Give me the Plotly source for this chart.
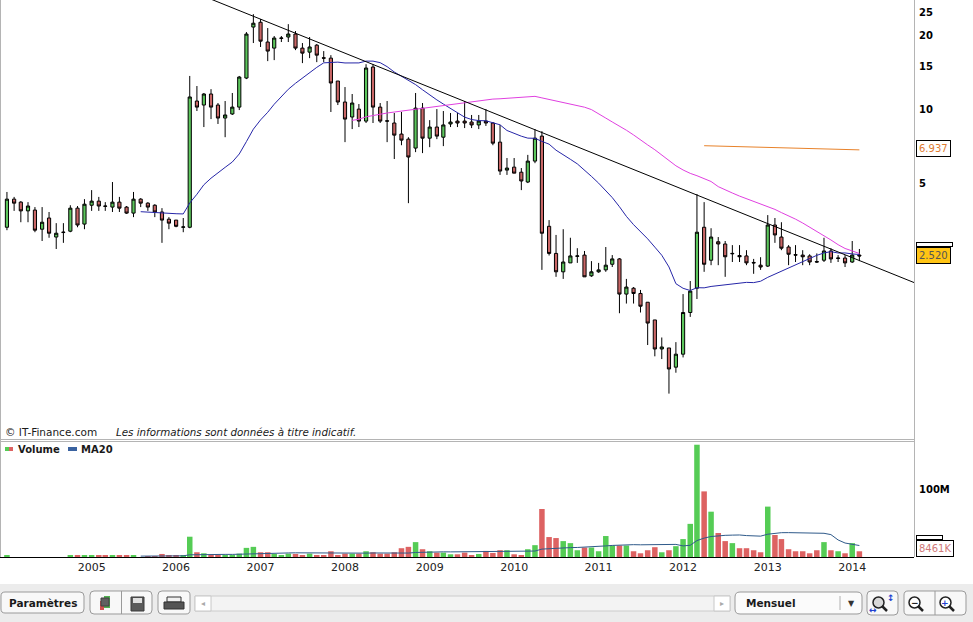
import math
import pandas as pd
import plotly.graph_objects as go

# ---------------- data (monthly, Jan 2004 .. Feb 2014) ----------------
months = pd.date_range("2004-01-01", periods=122, freq="MS")

opens = [3.30, 4.30, 4.18, 3.85, 3.88, 3.24, 3.60, 3.01, 3.14, 3.18,
         3.95, 3.40, 4.06, 4.22, 4.03, 3.99, 4.18, 3.99, 3.77, 4.30,
         4.14, 4.06, 3.81, 3.56, 3.53, 3.30, 3.30, 10.82, 10.42, 11.56,
         10.42, 9.22, 9.58, 10.22, 13.43, 21.70, 22.70, 18.85, 17.80, 19.50,
         19.76, 20.32, 17.80, 17.14, 18.30, 16.25, 16.20, 13.06, 10.72, 9.31,
         10.03, 8.96, 14.90, 10.22, 8.98, 8.80, 7.93, 7.56, 6.95, 10.12,
         7.63, 8.47, 7.70, 8.72, 8.96, 8.96, 8.88, 8.64, 8.96, 8.80,
         7.35, 5.65, 5.81, 5.54, 5.05, 6.15, 7.78, 3.33, 2.58, 2.17,
         2.36, 2.51, 2.54, 2.09, 2.17, 2.21, 2.33, 2.45, 1.76, 1.86,
         1.77, 1.63, 1.38, 1.05, 1.06, 0.885, 1.00, 1.48, 1.86, 3.30,
         2.42, 2.88, 2.82, 2.57, 2.53, 2.52, 2.37, 2.31, 2.29, 3.37,
         3.01, 2.74, 2.55, 2.54, 2.52, 2.39, 2.42, 2.64, 2.46, 2.47,
         2.38, 2.54]
highs = [4.60, 4.39, 4.22, 4.18, 3.99, 3.99, 3.81, 3.43, 3.43, 4.06,
         4.03, 4.30, 4.68, 4.39, 4.18, 5.05, 4.39, 4.03, 4.60, 4.34,
         4.18, 4.10, 3.95, 3.63, 3.53, 3.60, 13.70, 12.46, 11.67, 12.10,
         10.62, 10.82, 11.67, 13.70, 20.70, 24.50, 23.40, 21.50, 19.95, 19.95,
         22.30, 20.90, 18.67, 19.76, 18.50, 17.31, 16.66, 13.06, 12.34, 11.56,
         10.52, 15.30, 15.30, 10.62, 10.82, 9.67, 9.76, 7.70, 11.67, 10.62,
         9.04, 10.03, 9.85, 9.67, 9.67, 10.82, 9.49, 9.49, 10.03, 8.88,
         8.64, 6.33, 6.33, 5.76, 6.52, 8.31, 8.15, 3.53, 3.07, 3.24,
         2.99, 2.71, 2.64, 2.40, 2.36, 2.74, 2.54, 2.47, 2.03, 1.88,
         1.83, 1.63, 1.38, 1.17, 1.06, 1.12, 1.76, 1.99, 4.51, 4.18,
         3.27, 3.01, 2.90, 2.79, 2.79, 2.66, 2.45, 2.49, 3.70, 3.60,
         3.46, 2.79, 2.79, 2.66, 2.56, 2.58, 2.99, 2.71, 2.54, 2.54,
         2.90, 2.69]
lows = [3.21, 3.85, 3.46, 3.46, 3.15, 2.90, 2.99, 2.69, 2.85, 3.15,
        3.30, 3.24, 3.85, 3.85, 3.85, 3.81, 3.81, 3.74, 3.63, 3.99,
        3.85, 3.63, 2.85, 3.24, 3.30, 3.15, 3.27, 9.85, 8.47, 9.13,
        8.72, 7.70, 9.49, 9.94, 13.30, 18.67, 17.99, 15.75, 15.90, 18.85,
        18.85, 17.47, 15.46, 16.20, 15.60, 15.60, 9.76, 10.42, 7.35, 8.31,
        8.47, 8.80, 8.80, 8.80, 7.35, 6.27, 7.14, 4.14, 6.69, 6.63,
        7.01, 7.56, 7.08, 8.47, 8.47, 8.39, 8.39, 8.31, 8.56, 7.14,
        5.40, 5.40, 5.49, 4.68, 5.00, 6.03, 2.21, 2.53, 2.07, 2.03,
        2.36, 2.36, 2.07, 2.07, 2.15, 2.17, 2.27, 1.47, 1.61, 1.61,
        1.48, 1.09, 0.98, 0.955, 0.69, 0.84, 0.97, 1.42, 1.68, 2.17,
        2.31, 2.31, 2.07, 2.38, 2.38, 2.31, 2.13, 2.21, 2.27, 2.85,
        2.66, 2.31, 2.38, 2.31, 2.31, 2.36, 2.38, 2.36, 2.38, 2.27,
        2.36, 2.40]
closes = [4.30, 4.14, 3.85, 4.03, 3.21, 3.46, 3.12, 3.12, 3.15, 3.95,
          3.37, 4.10, 4.22, 4.03, 4.02, 4.18, 3.95, 3.77, 4.30, 4.14,
          3.99, 3.81, 3.53, 3.43, 3.33, 3.31, 11.24, 10.22, 11.56, 10.22,
          9.22, 9.49, 10.22, 13.56, 20.32, 22.50, 19.00, 17.31, 19.57, 19.57,
          20.32, 17.80, 16.98, 17.99, 16.66, 16.20, 12.82, 10.72, 9.13, 10.62,
          8.96, 14.76, 10.22, 8.96, 8.96, 7.85, 7.49, 6.39, 10.12, 7.63,
          8.47, 7.78, 8.64, 8.88, 8.80, 8.80, 8.64, 8.96, 8.80, 7.28,
          5.60, 5.76, 5.49, 5.10, 6.15, 7.63, 3.12, 2.58, 2.17, 2.38,
          2.52, 2.52, 2.07, 2.17, 2.21, 2.31, 2.45, 1.76, 1.88, 1.77,
          1.57, 1.34, 1.05, 1.07, 0.87, 1.00, 1.48, 1.81, 3.15, 2.33,
          3.01, 2.82, 2.50, 2.58, 2.50, 2.36, 2.36, 2.27, 3.37, 3.07,
          2.71, 2.56, 2.54, 2.50, 2.38, 2.38, 2.64, 2.45, 2.47, 2.36,
          2.54, 2.52]
volumes_m = [2.5, 0, 0, 0, 0, 0, 0, 0, 0, 1.5,
             2, 2, 2.5, 2.5, 3, 3, 2.5, 2.5, 2, 0,
             1, 1, 4.5, 1.5, 1.5, 1.5, 30, 7, 5.5, 2,
             2, 2, 2, 5, 13.5, 15, 7, 7, 4.5, 2.5,
             5, 4.5, 2.5, 5, 2.5, 3, 8.5, 3, 5, 5,
             5, 8.5, 7, 5, 5, 7, 13, 15, 22, 11.5,
             8.5, 6.5, 6.5, 4, 4, 6.5, 3, 4.5, 9, 6,
             10, 10, 4, 2.5, 11.5, 17.5, 71, 29.5, 28, 23.5,
             20.5, 10, 14, 14, 8.5, 31, 17, 17, 17, 8.5,
             5.5, 10, 14.5, 7, 10, 16, 26.5, 49, 166, 97,
             67, 35.5, 23.5, 20.5, 13, 13, 10, 7, 74.5, 32.5,
             26.5, 11.5, 8.5, 8.5, 5.5, 10, 22, 10, 8.5, 5.5,
             20.5, 8.461]

trend_dates = ["2006-01-01", "2015-01-01"]
trend_values = [32.2, 1.80]

price_ticks = [5, 10, 15, 20, 25]
volume_ticks_m = [100]
volume_tick_labels = ["100M"]
year_ticks = ["%d-01-01" % y for y in range(2005, 2015)]
year_labels = [str(y) for y in range(2005, 2015)]

last_price_label = 2.520
ma100_label = 6.937
last_volume_label_k = 8461

# ---------------- derived ----------------
close_s = pd.Series(closes)
ma20 = close_s.rolling(20).mean()
ma50 = close_s.rolling(50).mean()
ma100 = close_s.rolling(100).mean()
volumes = [v * 1e6 for v in volumes_m]
vol_ma20 = pd.Series(volumes).rolling(20).mean()

GREEN_C = "#5cc65c"
RED_C = "#c96666"
GREEN_V = "#55cc55"
RED_V = "#dd6262"
vol_colors = [GREEN_V if c > o else RED_V for o, c in zip(opens, closes)]

FONT = "DejaVu Sans"

# plot area in pixels: x 0..914, y 0..557
PW, PH = 914.0, 557.0


def px(x):
    return x / PW


def py(y):
    return (PH - y) / PH


fig = go.Figure()

fig.add_trace(go.Candlestick(
    x=months, open=opens, high=highs, low=lows, close=closes,
    increasing=dict(line=dict(color="black", width=1), fillcolor=GREEN_C),
    decreasing=dict(line=dict(color="black", width=1), fillcolor=RED_C),
    whiskerwidth=0, xaxis="x", yaxis="y", hoverinfo="skip", showlegend=False))

fig.add_trace(go.Scatter(x=months, y=ma20, mode="lines",
                         line=dict(color="#2626a8", width=1),
                         xaxis="x", yaxis="y", hoverinfo="skip", showlegend=False))
fig.add_trace(go.Scatter(x=months, y=ma50, mode="lines",
                         line=dict(color="#e040e0", width=1),
                         xaxis="x", yaxis="y", hoverinfo="skip", showlegend=False))
fig.add_trace(go.Scatter(x=months, y=ma100, mode="lines",
                         line=dict(color="#e8822a", width=1),
                         xaxis="x", yaxis="y", hoverinfo="skip", showlegend=False))
fig.add_trace(go.Scatter(x=trend_dates, y=trend_values, mode="lines",
                         line=dict(color="black", width=1),
                         xaxis="x", yaxis="y", hoverinfo="skip", showlegend=False))

fig.add_trace(go.Bar(x=months, y=volumes, marker=dict(color=vol_colors, line=dict(width=0)),
                     xaxis="x", yaxis="y2", hoverinfo="skip", showlegend=False))
fig.add_trace(go.Scatter(x=months, y=vol_ma20, mode="lines",
                         line=dict(color="#2f5a8a", width=1),
                         xaxis="x", yaxis="y2", hoverinfo="skip", showlegend=False))

shapes = []
GRAY = "#b4b4b4"
# frames
shapes.append(dict(type="line", xref="paper", yref="paper", x0=px(0.5), x1=px(0.5), y0=py(0), y1=py(557),
                   line=dict(color=GRAY, width=1)))
shapes.append(dict(type="line", xref="paper", yref="paper", x0=px(914.5), x1=px(914.5), y0=py(0), y1=py(557),
                   line=dict(color=GRAY, width=1)))
shapes.append(dict(type="line", xref="paper", yref="paper", x0=0, x1=px(914.5), y0=py(439.5), y1=py(439.5),
                   line=dict(color=GRAY, width=1)))
shapes.append(dict(type="line", xref="paper", yref="paper", x0=0, x1=px(914.5), y0=py(441.5), y1=py(441.5),
                   line=dict(color=GRAY, width=1)))

# legend swatches
shapes.append(dict(type="rect", xref="paper", yref="paper", x0=px(5), x1=px(9), y0=py(451), y1=py(447),
                   fillcolor=GREEN_V, line=dict(width=0)))
shapes.append(dict(type="rect", xref="paper", yref="paper", x0=px(9), x1=px(13), y0=py(451), y1=py(447),
                   fillcolor=RED_V, line=dict(width=0)))
shapes.append(dict(type="rect", xref="paper", yref="paper", x0=px(68), x1=px(77), y0=py(451), y1=py(447),
                   fillcolor="#3a62a0", line=dict(width=0)))

# toolbar
shapes.append(dict(type="rect", xref="paper", yref="paper", x0=px(0), x1=px(973), y0=py(584), y1=py(622),
                   fillcolor="#ececec", line=dict(width=0), layer="below"))


def rbtn(x0, x1, y0, y1, fill="#f8f8f8", border="#9a9a9a", r=4):
    """rounded button outline (pixel coords converted to paper)"""
    def P(x, y):
        return "%.5f,%.5f" % (px(x), py(y))
    path = ("M %s L %s Q %s %s L %s Q %s %s L %s Q %s %s L %s Q %s %s Z" % (
        P(x0 + r, y0), P(x1 - r, y0), P(x1, y0), P(x1, y0 + r), P(x1, y1 - r), P(x1, y1), P(x1 - r, y1),
        P(x0 + r, y1), P(x0, y1), P(x0, y1 - r), P(x0, y0 + r), P(x0, y0), P(x0 + r, y0)))
    shapes.append(dict(type="path", xref="paper", yref="paper", path=path,
                       fillcolor=fill, line=dict(color=border, width=1)))


def rect(x0, x1, y0, y1, fill, border=None):
    shapes.append(dict(type="rect", xref="paper", yref="paper", x0=px(x0), x1=px(x1), y0=py(y1), y1=py(y0),
                       fillcolor=fill, line=dict(color=border or fill, width=1 if border else 0)))


def vline(x, y0, y1, color="#9a9a9a"):
    shapes.append(dict(type="line", xref="paper", yref="paper", x0=px(x), x1=px(x), y0=py(y0), y1=py(y1),
                       line=dict(color=color, width=1)))


rbtn(1, 84, 592, 613)
rbtn(90, 152, 591, 614)
vline(121.5, 591, 614)
rect(100, 104, 601, 610, "#d05050")
rect(104, 110, 596, 608, "#50b050")
rect(101, 109, 598, 606, "#606060", "#404040")
rect(131, 144, 597, 611, "#5a5a5a", "#3a3a3a")
rect(133, 142, 598, 603, "#e0e0e0")
rbtn(158, 190, 591, 614)
rect(167, 181, 597, 602, "#f0f0f0", "#333333")
rect(164, 184, 602, 609, "#555555", "#333333")
rect(195, 730, 596, 611, "#f3f3f3", "#cccccc")
rect(195, 211, 596, 611, "#ffffff", "#c8c8c8")
rect(714, 730, 596, 611, "#ffffff", "#c8c8c8")
rbtn(735, 862, 592, 614, fill="#fbfbfb", r=5)
vline(840, 596, 610, "#b0b0b0")
rbtn(867, 898, 591, 615)
rbtn(904, 966, 591, 615)
vline(935, 591, 615)
for cx in (880, 916, 947):
    shapes.append(dict(type="circle", xref="paper", yref="paper", x0=px(cx - 7), x1=px(cx + 4), y0=py(608),
                       y1=py(597), fillcolor="#ffffff" if cx != 880 else "#d8d8d8",
                       line=dict(color="#222222", width=1.5)))
    shapes.append(dict(type="line", xref="paper", yref="paper", x0=px(cx + 2), x1=px(cx + 7), y0=py(606),
                       y1=py(611), line=dict(color="#222222", width=2.5)))

annotations = []


def text(x, y, s, size=10, color="#1a1a1a", anchor="left", bold=False):
    annotations.append(dict(xref="paper", yref="paper", x=px(x), y=py(y), text=("<b>%s</b>" % s) if bold else s,
                            showarrow=False, xanchor=anchor, yanchor="middle",
                            font=dict(family=FONT, size=size, color=color)))


text(3, 432, "© IT-Finance.com", size=10.5)
text(114, 432, "<i>Les informations sont données à titre indicatif.</i>", size=10.3)
text(16, 449, "Volume", size=10, bold=True)
text(79, 449, "MA20", size=10, bold=True)
text(43, 603, "Paramètres", size=10.5, bold=True, anchor="center")
text(744, 603, "Mensuel", size=10.5, bold=True)
text(851, 603, "▼", size=8, color="#333333", anchor="center")
text(203, 603, "◂", size=8, color="#aaaaaa", anchor="center")
text(722, 603, "▸", size=8, color="#aaaaaa", anchor="center")
text(891, 598, "↕", size=9, color="#2040d0", anchor="center", bold=True)
text(873, 610, "↔", size=9, color="#2040d0", anchor="center", bold=True)
text(914.5, 602.5, "−", size=9, color="#222222", anchor="center", bold=True)
text(945.5, 602.5, "+", size=9, color="#2040d0", anchor="center", bold=True)

# value boxes on the right axis
annotations.append(dict(xref="paper", yref="y", x=px(916), y=math.log10(last_price_label), yshift=11,
                        text="\u00a0", showarrow=False, xanchor="left", yanchor="middle", width=35, height=3,
                        bgcolor="#ffffff", bordercolor="black", borderwidth=1, borderpad=0,
                        font=dict(family=FONT, size=2)))
annotations.append(dict(xref="paper", yref="y", x=px(916), y=math.log10(last_price_label),
                        text="%.3f" % last_price_label, showarrow=False, xanchor="left", yanchor="middle",
                        bgcolor="#ffc414", bordercolor="black", borderwidth=1, borderpad=2,
                        font=dict(family=FONT, size=10, color="#555555")))
annotations.append(dict(xref="paper", yref="y", x=px(916), y=math.log10(ma100_label),
                        text="%.3f" % ma100_label, showarrow=False, xanchor="left", yanchor="middle",
                        bgcolor="#ffffff", bordercolor="black", borderwidth=1, borderpad=2,
                        font=dict(family=FONT, size=10, color="#e07b30")))
annotations.append(dict(xref="paper", yref="y2", x=px(916), y=last_volume_label_k * 1e3, yshift=3 + 11,
                        text="\u00a0", showarrow=False, xanchor="left", yanchor="middle", width=25, height=3,
                        bgcolor="#ffffff", bordercolor="black", borderwidth=1, borderpad=0,
                        font=dict(family=FONT, size=2)))
annotations.append(dict(xref="paper", yref="y2", x=px(916), y=last_volume_label_k * 1e3, yshift=3,
                        text="%dK" % last_volume_label_k, showarrow=False, xanchor="left", yanchor="middle",
                        bgcolor="#ffffff", bordercolor="black", borderwidth=1, borderpad=2,
                        font=dict(family=FONT, size=10, color="#d07878")))

fig.update_layout(
    width=973, height=622,
    margin=dict(l=0, r=59, t=0, b=65, pad=0),
    paper_bgcolor="white", plot_bgcolor="white",
    showlegend=False, bargap=0.15,
    font=dict(family=FONT, size=10, color="black"),
    xaxis=dict(type="date", range=["2003-12-02", "2014-09-25"], anchor="y2",
               tickvals=year_ticks, ticktext=year_labels, ticks="", showgrid=False, zeroline=False,
               showline=True, linecolor="black", linewidth=1, rangeslider=dict(visible=False),
               tickfont=dict(family=FONT, size=11, color="#222222")),
    yaxis=dict(type="log", domain=[1 - 438 / PH, 1], anchor="x", side="right",
               range=[math.log10(0.4545), math.log10(27.99)],
               tickvals=price_ticks, ticktext=["<b>%d</b>" % t for t in price_ticks],
               ticks="", showgrid=False, zeroline=False, showline=False, ticklabelstandoff=4,
               tickfont=dict(family=FONT, size=10, color="black")),
    yaxis2=dict(domain=[0, 116 / PH], anchor="x", side="right", range=[0, 171.5e6],
                tickvals=[v * 1e6 for v in volume_ticks_m], ticktext=["<b>%s</b>" % t for t in volume_tick_labels],
                ticks="", showgrid=False, zeroline=False, showline=False, ticklabelstandoff=4,
                tickfont=dict(family=FONT, size=10, color="black")),
    shapes=shapes, annotations=annotations,
)

fig.write_html("out.html", config={"displayModeBar": False},
               post_script="document.body.style.margin='0px';document.body.style.overflow='hidden';")
